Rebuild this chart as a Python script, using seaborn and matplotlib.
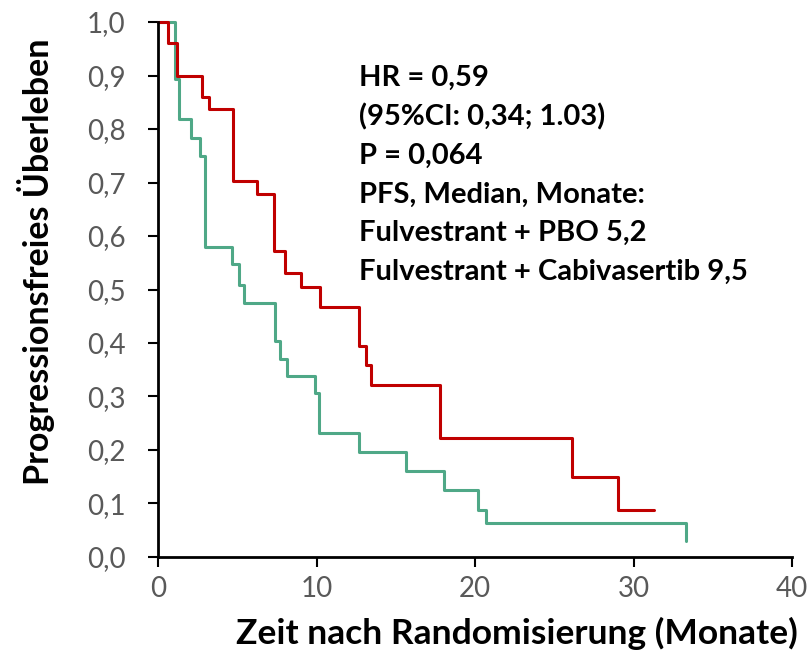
import matplotlib
matplotlib.use("Agg")
import matplotlib.pyplot as plt
import seaborn as sns
import pandas as pd

# Fulvestrant + Cabivasertib (red)
cabi_t = [0.0, 0.66, 1.2, 2.75, 3.24, 4.71, 6.24, 7.29, 7.99, 9.04, 10.19, 12.69, 13.11, 13.45, 17.8, 26.13, 29.0, 31.3]
cabi_s = [1.0, 0.96, 0.90, 0.859, 0.837, 0.703, 0.678, 0.572, 0.531, 0.505, 0.467, 0.395, 0.358, 0.321, 0.222, 0.150, 0.088, 0.088]

# Fulvestrant + PBO (green)
pbo_t = [0.0, 1.08, 1.35, 2.08, 2.65, 2.99, 4.67, 5.09, 5.44, 7.35, 7.69, 8.11, 9.88, 10.17, 12.65, 15.63, 18.07, 20.19, 20.67, 33.34]
pbo_s = [1.0, 0.893, 0.818, 0.784, 0.750, 0.579, 0.547, 0.508, 0.474, 0.404, 0.371, 0.339, 0.306, 0.231, 0.197, 0.161, 0.126, 0.088, 0.063, 0.029]

x_ticks = [0, 10, 20, 30, 40]
y_ticks = [0.0, 0.1, 0.2, 0.3, 0.4, 0.5, 0.6, 0.7, 0.8, 0.9, 1.0]
y_tick_labels = ["0,0", "0,1", "0,2", "0,3", "0,4", "0,5", "0,6", "0,7", "0,8", "0,9", "1,0"]

annot_lines = ["HR = 0,59", "(95%CI: 0,34; 1.03)", "P = 0,064", "PFS, Median, Monate:",
               "Fulvestrant + PBO 5,2", "Fulvestrant + Cabivasertib 9,5"]

sns.set_theme(style="white")
plt.rcParams['font.family'] = ['Lato', 'DejaVu Sans']

fig = plt.figure(figsize=(8.12, 6.68), dpi=100)
ax = fig.add_axes([0.1946, 0.1662, 0.7808, 0.8008])

df_c = pd.DataFrame({"t": cabi_t, "s": cabi_s})
df_p = pd.DataFrame({"t": pbo_t, "s": pbo_s})
sns.lineplot(data=df_p, x="t", y="s", estimator=None, sort=False, color="#4FA887",
             linewidth=2.2, drawstyle="steps-post", ax=ax)
sns.lineplot(data=df_c, x="t", y="s", estimator=None, sort=False, color="#C00000",
             linewidth=2.2, drawstyle="steps-post", ax=ax)

ax.set_xlim(0, 40)
ax.set_ylim(0, 1.0)
ax.set_xticks(x_ticks)
ax.set_xticklabels([str(v) for v in x_ticks])
ax.set_yticks(y_ticks)
ax.set_yticklabels(y_tick_labels)

for s in ["top", "right"]:
    ax.spines[s].set_visible(False)
for s in ["left", "bottom"]:
    ax.spines[s].set_color("black")
    ax.spines[s].set_linewidth(2.0)
ax.tick_params(axis="both", which="major", direction="out", length=7.5, width=1.5,
               color="black", labelsize=20, labelcolor="#595959", left=True, bottom=True)
ax.tick_params(axis="y", pad=16)
ax.tick_params(axis="x", pad=6)

ax.set_xlabel("Zeit nach Randomisierung (Monate)", fontsize=25.5, fontweight="bold",
              color="black")
ax.xaxis.set_label_coords(0.566, -0.112)
ax.set_ylabel("Progressionsfreies Überleben", fontsize=24.5, fontweight="bold",
              color="black")
ax.yaxis.set_label_coords(-0.163, 0.551)

for i, line in enumerate(annot_lines):
    ax.text(12.65, 0.895 - i * 0.0725, line, fontsize=21, fontweight="bold",
            color="black", ha="left", va="center")

for ln in ax.get_lines():
    ln.set_clip_on(False)

fig.savefig("out.png", dpi=100)
